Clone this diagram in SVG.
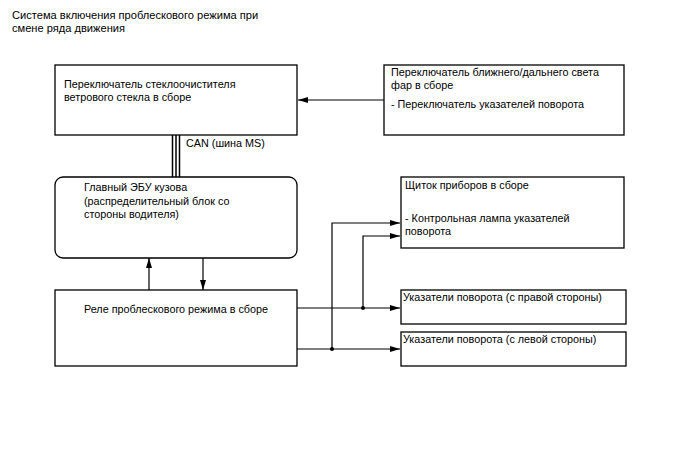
<svg xmlns="http://www.w3.org/2000/svg" width="688" height="463" viewBox="0 0 688 463">
<style>
.b{fill:#fff;stroke:#000;stroke-width:1.3}
.t{font-family:"Liberation Sans",Arial,sans-serif;font-size:10.8px;fill:#000}
.h{font-size:11.1px}
.l{fill:none;stroke:#000;stroke-width:1.2}
</style>
<defs>
<marker id="a" markerWidth="10" markerHeight="6" refX="10" refY="3" orient="auto" markerUnits="userSpaceOnUse"><path d="M0,0 L10,3 L0,6 Z" fill="#000"/></marker>
</defs>
<rect width="688" height="463" fill="#fff"/>
<text class="t h" x="12" y="19">Система включения проблескового режима при</text>
<text class="t h" x="12" y="32">смене ряда движения</text>
<g id="connectors">
<line class="l" x1="384" y1="100" x2="298" y2="100" marker-end="url(#a)"/>
<line x1="172.5" y1="135" x2="172.5" y2="177" stroke="#000" stroke-width="1.5"/>
<line x1="176" y1="135" x2="176" y2="177" stroke="#000" stroke-width="1.5"/>
<line x1="179.5" y1="135" x2="179.5" y2="177" stroke="#000" stroke-width="1.5"/>
<text class="t" x="186" y="147">CAN (шина MS)</text>
<line class="l" x1="149" y1="290" x2="149" y2="258" marker-end="url(#a)"/>
<line class="l" x1="203" y1="258" x2="203" y2="290" marker-end="url(#a)"/>
<line class="l" x1="297" y1="308" x2="400" y2="308" marker-end="url(#a)"/>
<line class="l" x1="297" y1="349" x2="400" y2="349" marker-end="url(#a)"/>
<polyline class="l" points="332,349 332,223 400,223" marker-end="url(#a)"/>
<polyline class="l" points="363,308 363,236 400,236" marker-end="url(#a)"/>
<circle cx="363" cy="308" r="2" fill="#000"/>
<circle cx="332" cy="349" r="2" fill="#000"/>
</g>
<g id="wiper">
<rect class="b" x="55" y="65" width="242" height="70"/>
<text class="t" x="64" y="88">Переключатель стеклоочистителя</text>
<text class="t" x="64" y="101">ветрового стекла в сборе</text>
</g>
<g id="headlight">
<rect class="b" x="384" y="65" width="240" height="70"/>
<text class="t" x="391" y="76">Переключатель ближнего/дальнего света</text>
<text class="t" x="391" y="89">фар в сборе</text>
<text class="t" x="391" y="108">- Переключатель указателей поворота</text>
</g>
<g id="ecu">
<rect class="b" x="55" y="177" width="242" height="81" rx="8"/>
<text class="t" x="84" y="191">Главный ЭБУ кузова</text>
<text class="t" x="84" y="205">(распределительный блок со</text>
<text class="t" x="84" y="218">стороны водителя)</text>
</g>
<g id="meter">
<rect class="b" x="401" y="177" width="223" height="71"/>
<text class="t" x="405" y="189">Щиток приборов в сборе</text>
<text class="t" x="405" y="222">- Контрольная лампа указателей</text>
<text class="t" x="405" y="235">поворота</text>
</g>
<g id="relay">
<rect class="b" x="55" y="290" width="242" height="76"/>
<text class="t" x="84" y="313">Реле проблескового режима в сборе</text>
</g>
<g id="right">
<rect class="b" x="401" y="290" width="225" height="34"/>
<text class="t" x="403" y="301">Указатели поворота (с правой стороны)</text>
</g>
<g id="left">
<rect class="b" x="401" y="332" width="225" height="34"/>
<text class="t" x="403" y="343">Указатели поворота (с левой стороны)</text>
</g>
</svg>
